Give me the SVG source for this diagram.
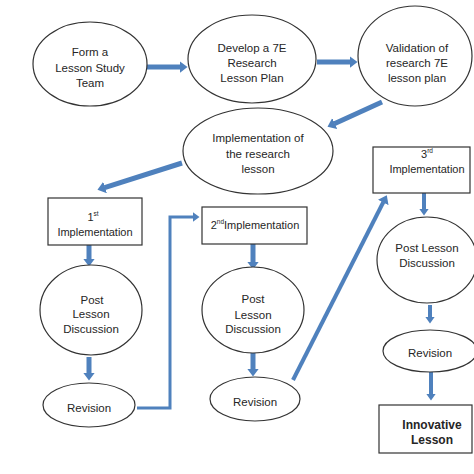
<svg xmlns="http://www.w3.org/2000/svg" width="474" height="474" viewBox="0 0 474 474">
<style>
.n{fill:#fff;stroke:#333;stroke-width:1.2}
text{font-family:"Liberation Sans",Arial,sans-serif;font-size:11.5px;fill:#262626;text-anchor:middle}
.k{font-size:11px}
.b{font-weight:bold;font-size:12px}
.c{stroke:#4f81bd;fill:none}
.t{stroke-width:5}
.m{stroke-width:4}
.s{stroke-width:3}
</style>
<defs>
<marker id="ah" markerUnits="userSpaceOnUse" markerWidth="8" markerHeight="12" refX="0.5" refY="6" orient="auto"><path d="M0,0 L8,6 L0,12 z" fill="#4f81bd"/></marker>
<marker id="as" markerUnits="userSpaceOnUse" markerWidth="7" markerHeight="10" refX="0.5" refY="5" orient="auto"><path d="M0,0 L7,5 L0,10 z" fill="#4f81bd"/></marker>
</defs>
<rect width="474" height="474" fill="#fff"/>
<g id="connectors">
<line class="c t" x1="147" y1="67" x2="180" y2="67" marker-end="url(#ah)"/>
<line class="c t" x1="317" y1="62" x2="350" y2="62" marker-end="url(#ah)"/>
<line class="c t" x1="382" y1="102" x2="334.3" y2="123.7" marker-end="url(#ah)"/>
<line class="c t" x1="182" y1="163" x2="104.6" y2="187.6" marker-end="url(#ah)"/>
<line class="c t" x1="89" y1="245" x2="89" y2="259" marker-end="url(#ah)"/>
<line class="c t" x1="89" y1="357" x2="89" y2="373" marker-end="url(#ah)"/>
<path class="c s" d="M137,408 H170 V217 H193" marker-end="url(#as)"/>
<line class="c t" x1="253" y1="244" x2="253" y2="262" marker-end="url(#ah)"/>
<line class="c t" x1="253" y1="353" x2="253" y2="369" marker-end="url(#ah)"/>
<line class="c m" x1="293" y1="380" x2="383.4" y2="202" marker-end="url(#ah)"/>
<line class="c m" x1="424" y1="193" x2="424" y2="209" marker-end="url(#as)"/>
<line class="c m" x1="430" y1="305" x2="430" y2="317" marker-end="url(#as)"/>
<line class="c m" x1="431" y1="372" x2="431" y2="394" marker-end="url(#as)"/>
</g>
<g id="form-team"><ellipse class="n" cx="90" cy="64" rx="57" ry="42"/><text x="90" y="56">Form a</text><text x="90" y="72">Lesson Study</text><text x="90" y="87">Team</text></g>
<g id="develop"><ellipse class="n" cx="252" cy="59" rx="64" ry="44"/><text x="252" y="52">Develop a 7E</text><text x="252" y="67">Research</text><text x="252" y="82">Lesson Plan</text></g>
<g id="validation"><ellipse class="n" cx="415" cy="56" rx="57" ry="50"/><text x="417" y="52">Validation of</text><text x="417" y="67">research 7E</text><text x="417" y="82">lesson plan</text></g>
<g id="implementation"><ellipse class="n" cx="258" cy="151" rx="75" ry="43"/><text x="258" y="142">Implementation of</text><text x="258" y="158">the research</text><text x="258" y="173">lesson</text></g>
<g id="impl1"><rect class="n" x="48" y="198" width="94" height="47"/><text class="k" x="93" y="221">1<tspan font-size="6.5" dy="-5">st</tspan></text><text class="k" x="95" y="236">Implementation</text></g>
<g id="pld1"><ellipse class="n" cx="91" cy="310" rx="51" ry="45"/><text x="92" y="304">Post</text><text x="91" y="318">Lesson</text><text x="91" y="333">Discussion</text></g>
<g id="rev1"><ellipse class="n" cx="89" cy="405" rx="46" ry="22"/><text x="89" y="412">Revision</text></g>
<g id="impl2"><rect class="n" x="202" y="207" width="105" height="37"/><text class="k" x="255" y="229">2<tspan font-size="6.5" dy="-5">nd</tspan><tspan dy="5">Implementation</tspan></text></g>
<g id="pld2"><ellipse class="n" cx="253" cy="310" rx="51" ry="43"/><text x="253" y="303">Post</text><text x="253" y="319">Lesson</text><text x="253" y="333">Discussion</text></g>
<g id="rev2"><ellipse class="n" cx="255" cy="399" rx="45" ry="22"/><text x="255" y="406">Revision</text></g>
<g id="impl3"><rect class="n" x="373" y="147" width="97" height="46"/><text class="k" x="427" y="158">3<tspan font-size="6.5" dy="-5">rd</tspan></text><text class="k" x="427" y="173">Implementation</text></g>
<g id="pld3"><ellipse class="n" cx="427" cy="260" rx="50" ry="43"/><text x="427" y="252">Post Lesson</text><text x="427" y="267">Discussion</text></g>
<g id="rev3"><ellipse class="n" cx="430" cy="351" rx="47" ry="21"/><text x="430" y="357">Revision</text></g>
<g id="innovative"><rect class="n" x="379" y="405" width="93" height="48"/><text class="b" x="432" y="429">Innovative</text><text class="b" x="432" y="444">Lesson</text></g>
</svg>
